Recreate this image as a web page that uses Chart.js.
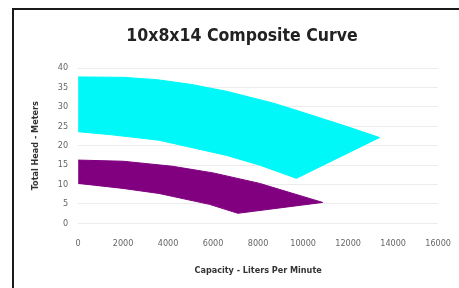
<!DOCTYPE html>
<html>
<head>
<meta charset="utf-8">
<script src="https://cdn.jsdelivr.net/npm/chart.js@4.4.1/dist/chart.umd.min.js"></script>
<style>
  html, body { margin: 0; padding: 0; background: #fff; }
  #frame { position: absolute; left: 12px; top: 8px; width: 460px; height: 290px;
           border-top: 2px solid #1a1a1a; border-left: 2px solid #1a1a1a; }
  #wrap { position: absolute; left: 0; top: 0; width: 459px; height: 288px; }
</style>
</head>
<body>
<div id="frame"></div>
<div id="wrap"><canvas id="c" width="458" height="288"></canvas></div>
<script>
// Chart text
const chartTitle = "10x8x14 Composite Curve";
const xTitle = "Capacity - Liters Per Minute";
const yTitle = "Total Head - Meters";

// Cyan curve envelope (outline, clockwise): capacity (L/min) and head (m)
const cyanFlow = [0, 2000, 3500, 5000, 6600, 8650, 9550, 11050, 11760, 13400, 9700, 8070, 6600, 3600, 1500, 0];
const cyanHead = [37.7, 37.6, 37.0, 35.8, 34.0, 31.0, 29.4, 26.6, 25.3, 22.1, 11.6, 15.0, 17.5, 21.4, 22.8, 23.6];

// Purple curve envelope (outline, clockwise)
const purpleFlow = [0, 2000, 4200, 6000, 8070, 9550, 10870, 7100, 5840, 3600, 2000, 0];
const purpleHead = [16.3, 16.0, 14.7, 13.0, 10.3, 7.7, 5.4, 2.6, 4.9, 7.7, 9.0, 10.3];

// Axis ranges
const xMin = 0, xMax = 16000, xStep = 2000;
const yMin = 0, yMax = 40, yStep = 5;

function toPoints(xs, ys) { return xs.map((x, i) => ({ x: x, y: ys[i] })); }

const cyan = 'rgb(0,248,248)';
const purple = 'rgb(128,0,128)';
const fam = 'DejaVu Sans Condensed';

new Chart(document.getElementById('c'), {
  type: 'scatter',
  data: {
    datasets: [
      { label: 'Cyan', data: toPoints(cyanFlow, cyanHead), showLine: true, fill: 'shape',
        backgroundColor: cyan, borderColor: cyan, borderWidth: 1, pointRadius: 0, tension: 0 },
      { label: 'Purple', data: toPoints(purpleFlow, purpleHead), showLine: true, fill: 'shape',
        backgroundColor: purple, borderColor: purple, borderWidth: 1, pointRadius: 0, tension: 0 }
    ]
  },
  options: {
    responsive: false,
    animation: false,
    layout: { padding: { left: 26, right: 0, top: 26, bottom: 8 } },
    plugins: {
      legend: { display: false },
      tooltip: { enabled: false },
      title: { display: true, text: chartTitle, color: '#222',
               font: { family: fam, size: 17.5, weight: 'bold' },
               padding: { top: 0, bottom: 21 } }
    },
    scales: {
      x: { type: 'linear', min: xMin, max: xMax,
           ticks: { stepSize: xStep, color: '#666', padding: 7,
                    callback: (v) => String(v),
                    font: { family: fam, size: 9 } },
           grid: { display: false }, border: { display: false },
           title: { display: true, text: xTitle, color: '#333', padding: { top: 9 },
                    font: { family: fam, size: 9, weight: 'bold' } } },
      y: { type: 'linear', min: yMin, max: yMax,
           ticks: { stepSize: yStep, color: '#666', padding: 10,
                    font: { family: fam, size: 9 } },
           grid: { color: '#ececec', drawTicks: false }, border: { display: false },
           title: { display: true, text: yTitle, color: '#333', padding: { top: 4, bottom: 7 },
                    font: { family: fam, size: 9, weight: 'bold' } } }
    }
  }
});
</script>
</body>
</html>
